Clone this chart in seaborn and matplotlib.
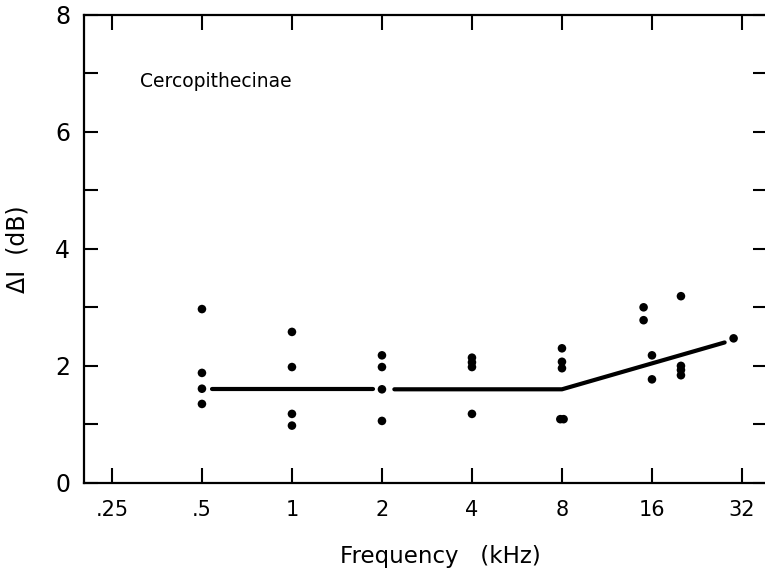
import numpy as np
import pandas as pd
import matplotlib
matplotlib.use('Agg')
import matplotlib.pyplot as plt
import seaborn as sns

# individual thresholds
freq_khz = [0.5, 0.5, 0.5, 0.5,
            1, 1, 1, 1,
            2, 2, 2, 2,
            4, 4, 4, 4,
            8, 8, 8, 7.9, 8.1,
            15, 15, 16, 16,
            20, 20, 20, 20,
            30]
delta_i = [2.97, 1.88, 1.61, 1.35,
           2.58, 1.98, 1.18, 0.98,
           2.18, 1.98, 1.60, 1.06,
           2.14, 2.06, 1.98, 1.18,
           2.30, 2.07, 1.96, 1.09, 1.09,
           3.00, 2.78, 2.18, 1.77,
           3.19, 2.00, 1.93, 1.84,
           2.47]

# fitted function (two pieces, broken at 2 kHz)
fit1_x = [0.54, 1.87]
fit1_y = [1.6, 1.6]
fit2_x = [2.2, 8, 28]
fit2_y = [1.6, 1.6, 2.4]

xtick_vals = [0.25, 0.5, 1, 2, 4, 8, 16, 32]
xtick_labels = ['.25', '.5', '1', '2', '4', '8', '16', '32']
ytick_labels = ['0', '', '2', '', '4', '', '6', '', '8']

sns.set_style('ticks')
plt.rcParams['font.family'] = ['DejaVu Sans']
for key in ['text.color', 'axes.labelcolor', 'xtick.color', 'ytick.color',
            'axes.edgecolor']:
    plt.rcParams[key] = 'black'

df = pd.DataFrame({'freq': freq_khz, 'di': delta_i})

fig = plt.figure(figsize=(7.65, 5.76), dpi=100)
ax = fig.add_axes([84 / 765, 93 / 576, 683 / 765, 468.5 / 576])

sns.scatterplot(data=df, x='freq', y='di', color='black', s=38,
                edgecolor='none', legend=False, ax=ax, zorder=3)
sns.lineplot(x=fit1_x, y=fit1_y, color='black', lw=3, sort=False,
             estimator=None, ax=ax)
sns.lineplot(x=fit2_x, y=fit2_y, color='black', lw=3, sort=False,
             estimator=None, ax=ax)

ax.set_xscale('log', base=2)
ax.set_xlim(0.2016, 38.8)
ax.set_ylim(0, 8)
ax.set_xticks(xtick_vals)
ax.set_xticklabels(xtick_labels)
ax.minorticks_off()
ax.set_yticks(range(9))
ax.set_yticklabels(ytick_labels)

ax.tick_params(axis='x', direction='in', top=True, length=11, width=1.5,
               labelsize=15, pad=12, colors='black')
ax.tick_params(axis='y', direction='in', right=True, length=10, width=1.5,
               labelsize=17, pad=10, colors='black')
for side in ['left', 'top', 'bottom']:
    ax.spines[side].set_linewidth(1.6)
    ax.spines[side].set_color('black')
ax.spines['right'].set_visible(False)

ax.set_xlabel('')
ax.set_ylabel('')
fig.text(18 / 765, 1 - 249 / 576, 'ΔI  (dB)', rotation=90, ha='center',
         va='center', fontsize=17, color='black')
fig.text(440 / 765, 1 - 557 / 576, 'Frequency   (kHz)', ha='center',
         va='center', fontsize=16.5, color='black')
ax.text(0.082, 0.856, 'Cercopithecinae', transform=ax.transAxes,
        ha='left', va='center', fontsize=13.5, color='black')

fig.savefig('out.png', dpi=100)
